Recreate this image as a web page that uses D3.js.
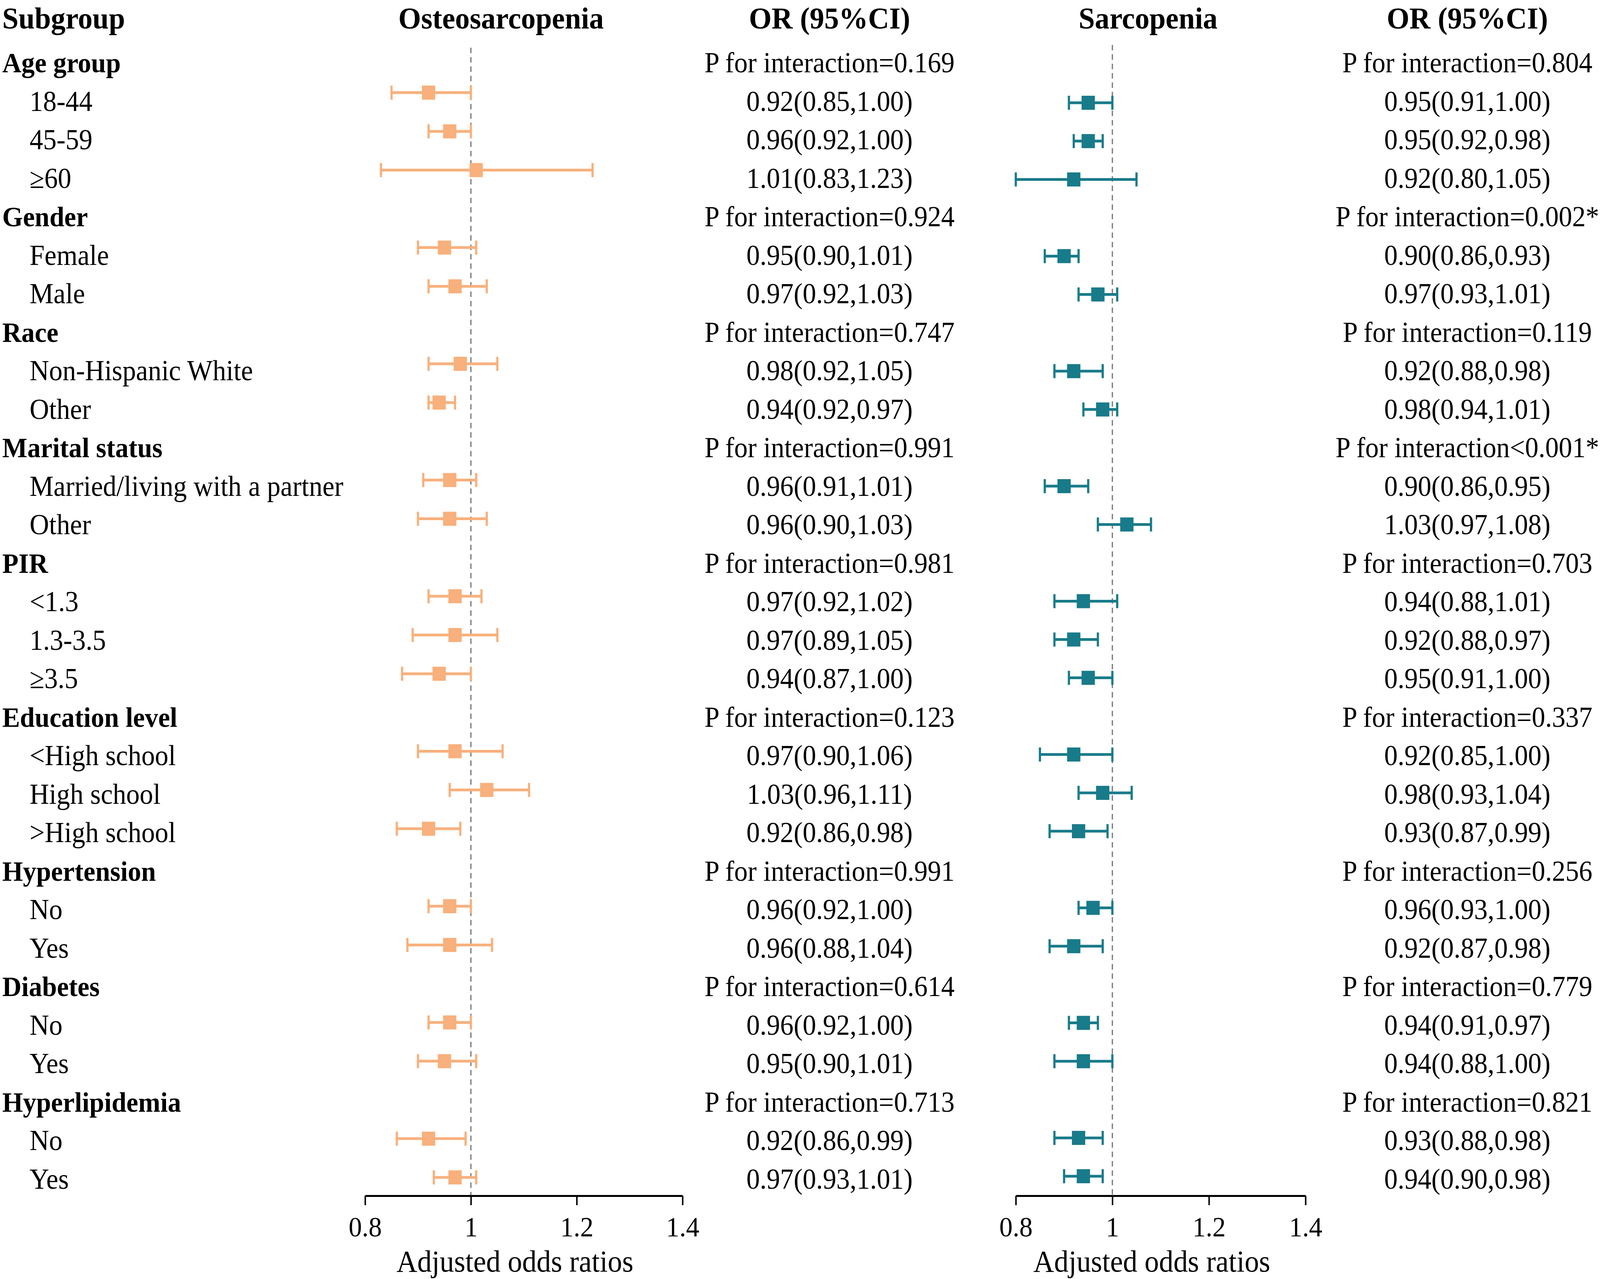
<!DOCTYPE html>
<html>
<head>
<meta charset="utf-8">
<script src="https://cdn.jsdelivr.net/npm/d3@7"></script>
<style>
  html, body { margin: 0; padding: 0; background: #fff; overflow: hidden; }
  svg { display: block; font-family: "Liberation Serif", "Times New Roman", serif; }
</style>
</head>
<body>
<div id="chart"></div>
<script>
// Row labels (group headers have no estimate)
const rowLabels = ["Age group", "18-44", "45-59", "≥60",
    "Gender", "Female", "Male",
    "Race", "Non-Hispanic White", "Other",
    "Marital status", "Married/living with a partner", "Other",
    "PIR", "<1.3", "1.3-3.5", "≥3.5",
    "Education level", "<High school", "High school", ">High school",
    "Hypertension", "No", "Yes",
    "Diabetes", "No", "Yes",
    "Hyperlipidemia", "No", "Yes"];
const groupRows = [0, 4, 7, 10, 13, 17, 21, 24, 27];

// Osteosarcopenia
const osteoOR    = [null, 0.92, 0.96, 1.01, null, 0.95, 0.97, null, 0.98, 0.94, null, 0.96, 0.96, null, 0.97, 0.97, 0.94, null, 0.97, 1.03, 0.92, null, 0.96, 0.96, null, 0.96, 0.95, null, 0.92, 0.97];
const osteoLower = [null, 0.85, 0.92, 0.83, null, 0.90, 0.92, null, 0.92, 0.92, null, 0.91, 0.90, null, 0.92, 0.89, 0.87, null, 0.90, 0.96, 0.86, null, 0.92, 0.88, null, 0.92, 0.90, null, 0.86, 0.93];
const osteoUpper = [null, 1.00, 1.00, 1.23, null, 1.01, 1.03, null, 1.05, 0.97, null, 1.01, 1.03, null, 1.02, 1.05, 1.00, null, 1.06, 1.11, 0.98, null, 1.00, 1.04, null, 1.00, 1.01, null, 0.99, 1.01];
const osteoP = ["=0.169", "=0.924", "=0.747", "=0.991", "=0.981", "=0.123", "=0.991", "=0.614", "=0.713"];

// Sarcopenia
const sarcoOR    = [null, 0.95, 0.95, 0.92, null, 0.90, 0.97, null, 0.92, 0.98, null, 0.90, 1.03, null, 0.94, 0.92, 0.95, null, 0.92, 0.98, 0.93, null, 0.96, 0.92, null, 0.94, 0.94, null, 0.93, 0.94];
const sarcoLower = [null, 0.91, 0.92, 0.80, null, 0.86, 0.93, null, 0.88, 0.94, null, 0.86, 0.97, null, 0.88, 0.88, 0.91, null, 0.85, 0.93, 0.87, null, 0.93, 0.87, null, 0.91, 0.88, null, 0.88, 0.90];
const sarcoUpper = [null, 1.00, 0.98, 1.05, null, 0.93, 1.01, null, 0.98, 1.01, null, 0.95, 1.08, null, 1.01, 0.97, 1.00, null, 1.00, 1.04, 0.99, null, 1.00, 0.98, null, 0.97, 1.00, null, 0.98, 0.98];
const sarcoP = ["=0.804", "=0.002*", "=0.119", "<0.001*", "=0.703", "=0.337", "=0.256", "=0.779", "=0.821"];

const xTicks = [0.8, 1, 1.2, 1.4];

const W = 4330, H = 3273;
// the window is narrower than the drawing, so stretch the viewBox over the whole window
const svg = d3.select("#chart").append("svg")
    .attr("viewBox", "0 0 " + W + " " + H)
    .attr("preserveAspectRatio", "none")
    .style("width", "100vw")
    .style("height", "100vh");

svg.append("rect").attr("width", W).attr("height", H).attr("fill", "#fff");

const fmt = d3.format(".2f");
const rows = d3.range(rowLabels.length);

// text baselines
const yText = d3.scaleLinear().domain([0, 29]).range([185, 3042]);

const axisY = 3060;
const headY = 73;

const panels = [
    { name: "Osteosarcopenia", or: osteoOR, lo: osteoLower, hi: osteoUpper, p: osteoP,
      range: [988, 1847], color: "#F8B07C", yMark: d3.scaleLinear().domain([1, 29]).range([237, 3013]),
      lineTop: 122, titleX: 1356, orX: 2245 },
    { name: "Sarcopenia", or: sarcoOR, lo: sarcoLower, hi: sarcoUpper, p: sarcoP,
      range: [2749, 3533], color: "#187B8A", yMark: d3.scaleLinear().domain([1, 29]).range([263, 3010]),
      lineTop: 115, titleX: 3107, orX: 3971 }
];

// Header row
svg.append("text")
    .attr("x", 6).attr("y", headY)
    .attr("font-size", 79).attr("font-weight", "bold")
    .text("Subgroup");

// Subgroup labels
svg.selectAll(".row-label")
    .data(rows)
    .join("text")
    .attr("class", "row-label")
    .attr("x", i => groupRows.includes(i) ? 6 : 80)
    .attr("y", i => yText(i))
    .attr("font-size", i => groupRows.includes(i) ? 72 : 73)
    .attr("font-weight", i => groupRows.includes(i) ? "bold" : "normal")
    .text(i => rowLabels[i]);

panels.forEach(function (pn) {
    let x = d3.scaleLinear().domain([0.8, 1.4]).range(pn.range);
    let g = svg.append("g");

    // titles
    g.append("text")
        .attr("x", pn.titleX).attr("y", headY)
        .attr("text-anchor", "middle")
        .attr("font-size", 79).attr("font-weight", "bold")
        .text(pn.name);
    g.append("text")
        .attr("x", pn.orX).attr("y", headY)
        .attr("text-anchor", "middle")
        .attr("font-size", 79).attr("font-weight", "bold")
        .text("OR (95%CI)");

    // reference line at 1
    g.append("line")
        .attr("x1", x(1)).attr("x2", x(1))
        .attr("y1", pn.lineTop).attr("y2", axisY)
        .attr("stroke", "#7f7f7f")
        .attr("stroke-width", 3.5)
        .attr("stroke-dasharray", "14,10");

    let est = rows.filter(i => pn.or[i] !== null);
    let capH = 36, sq = 36;

    // CI lines
    g.selectAll(".ci")
        .data(est)
        .join("line")
        .attr("x1", i => x(pn.lo[i])).attr("x2", i => x(pn.hi[i]))
        .attr("y1", i => pn.yMark(i)).attr("y2", i => pn.yMark(i))
        .attr("stroke", pn.color).attr("stroke-width", 7);

    // caps
    ["lo", "hi"].forEach(function (k) {
        g.selectAll(".cap-" + k)
            .data(est)
            .join("line")
            .attr("x1", i => x(pn[k][i])).attr("x2", i => x(pn[k][i]))
            .attr("y1", i => pn.yMark(i) - capH / 2).attr("y2", i => pn.yMark(i) + capH / 2)
            .attr("stroke", pn.color).attr("stroke-width", 6);
    });

    // point estimates
    g.selectAll(".pt")
        .data(est)
        .join("rect")
        .attr("x", i => x(pn.or[i]) - sq / 2)
        .attr("y", i => pn.yMark(i) - sq / 2)
        .attr("width", sq).attr("height", sq)
        .attr("fill", pn.color);

    // OR text column
    g.selectAll(".or-text")
        .data(rows)
        .join("text")
        .attr("x", pn.orX)
        .attr("y", i => yText(i))
        .attr("text-anchor", "middle")
        .attr("font-size", 73)
        .text(function (i) {
            if (pn.or[i] === null) {
                return "P for interaction" + pn.p[groupRows.indexOf(i)];
            }
            return fmt(pn.or[i]) + "(" + fmt(pn.lo[i]) + "," + fmt(pn.hi[i]) + ")";
        });

    // x axis
    let axis = d3.axisBottom(x)
        .tickValues(xTicks)
        .tickFormat(d3.format(""))
        .tickSize(24)
        .tickSizeOuter(0);

    let ax = g.append("g")
        .attr("transform", "translate(0," + axisY + ")")
        .call(axis);
    ax.select(".domain").attr("stroke", "#000").attr("stroke-width", 5);
    ax.selectAll(".tick line").attr("stroke", "#000").attr("stroke-width", 4);
    ax.selectAll(".tick text")
        .attr("y", 104).attr("dy", 0)
        .attr("fill", "#000")
        .attr("font-size", 72)
        .attr("font-family", "Liberation Serif");

    g.append("text")
        .attr("x", (pn.range[0] + pn.range[1]) / 2 - 24)
        .attr("y", 3254)
        .attr("text-anchor", "middle")
        .attr("font-size", 78)
        .text("Adjusted odds ratios");
});
</script>
</body>
</html>
